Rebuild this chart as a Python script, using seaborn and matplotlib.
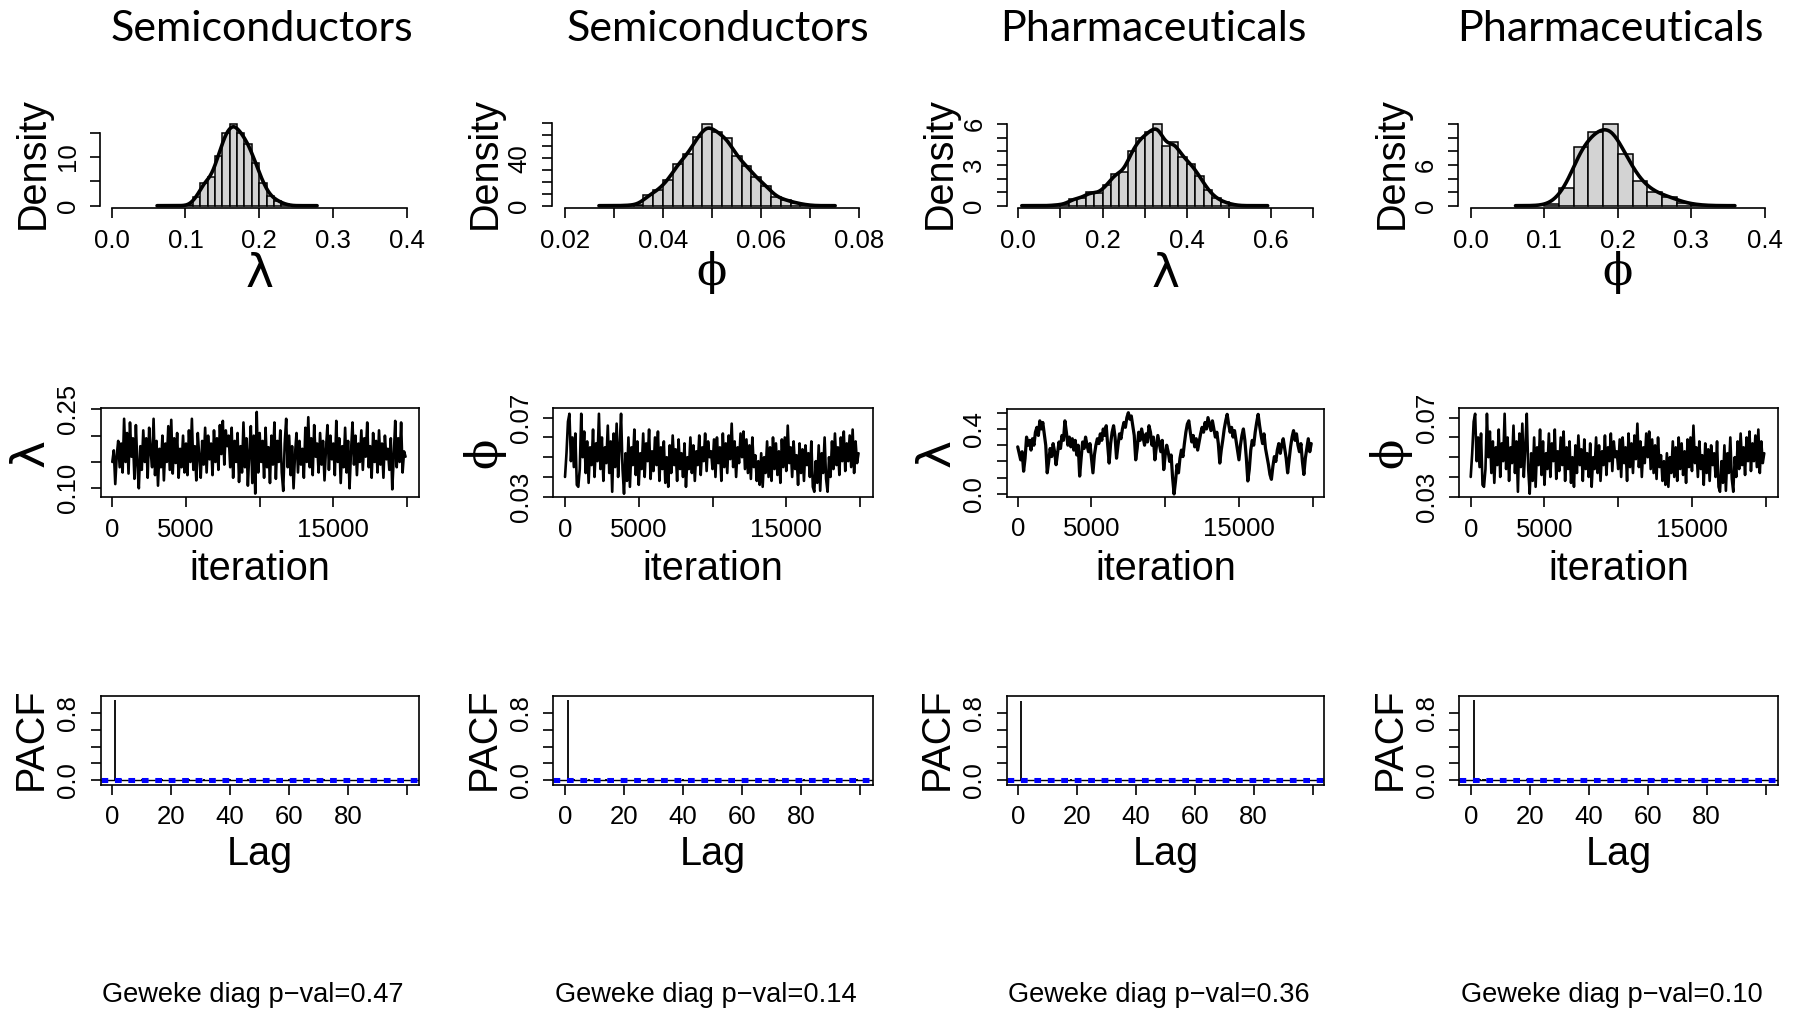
import numpy as np
import pandas as pd
import matplotlib
matplotlib.use("Agg")
import matplotlib.pyplot as plt
import seaborn as sns

sns.set_theme(style="white")
plt.rcParams['font.family'] = ['Liberation Sans', 'DejaVu Sans']
plt.rcParams.update({'axes.edgecolor': 'black', 'xtick.color': 'black',
                     'ytick.color': 'black', 'text.color': 'black',
                     'axes.linewidth': 1.2})

W, H = 1805, 1013

# ---------------- data ----------------
titles = ["Semiconductors", "Semiconductors", "Pharmaceuticals", "Pharmaceuticals"]
param_names = ["λ", "ϕ", "λ", "ϕ"]
geweke_p = ["0.47", "0.14", "0.36", "0.10"]

hist1_breaks = [0.10, 0.11, 0.12, 0.13, 0.14, 0.15, 0.16, 0.17, 0.18, 0.19, 0.20,
                0.21, 0.22, 0.23, 0.24]
hist1_density = [0.1, 1.7, 4.7, 5.8, 10.3, 15.0, 16.7, 14.9, 12.6, 8.8, 4.7, 2.0, 1.0, 0.3]

hist2_breaks = [0.032, 0.034, 0.036, 0.038, 0.040, 0.042, 0.044, 0.046, 0.048, 0.050,
                0.052, 0.054, 0.056, 0.058, 0.060, 0.062, 0.064, 0.066, 0.068, 0.070]
hist2_density = [0.3, 1.0, 8.7, 13.2, 21.6, 35.0, 43.6, 57.6, 68.9, 62.4, 56.8, 42.2,
                 33.5, 23.9, 16.9, 7.6, 4.8, 2.5, 0.8]

hist3_breaks = [0.08, 0.10, 0.12, 0.14, 0.16, 0.18, 0.20, 0.22, 0.24, 0.26, 0.28, 0.30,
                0.32, 0.34, 0.36, 0.38, 0.40, 0.42, 0.44, 0.46, 0.48, 0.50, 0.52]
hist3_density = [0.05, 0.1, 0.5, 0.57, 1.0, 0.9, 1.5, 2.36, 2.5, 4.06, 4.97, 5.4, 6.0,
                 4.43, 4.7, 3.6, 3.07, 2.19, 1.16, 0.54, 0.25, 0.07]

hist4_breaks = [0.10, 0.12, 0.14, 0.16, 0.18, 0.20, 0.22, 0.24, 0.26, 0.28, 0.30, 0.32]
hist4_density = [0.2, 2.66, 8.7, 10.9, 12.1, 7.57, 3.69, 1.97, 1.33, 0.44, 0.1]

hist_xticks = [[0.0, 0.1, 0.2, 0.3, 0.4],
               [0.02, 0.03, 0.04, 0.05, 0.06, 0.07, 0.08],
               [0.0, 0.1, 0.2, 0.3, 0.4, 0.5, 0.6, 0.7],
               [0.0, 0.1, 0.2, 0.3, 0.4]]
hist_xticklabels = [["0.0", "0.1", "0.2", "0.3", "0.4"],
                    ["0.02", "", "0.04", "", "0.06", "", "0.08"],
                    ["0.0", "", "0.2", "", "0.4", "", "0.6", ""],
                    ["0.0", "0.1", "0.2", "0.3", "0.4"]]
hist_yticks = [[0, 5, 10, 15],
               [0, 10, 20, 30, 40, 50, 60, 70],
               [0, 1, 2, 3, 4, 5, 6],
               [0, 2, 4, 6, 8, 10, 12]]
hist_yticklabels = [["0", "", "10", ""],
                    ["0", "", "", "", "40", "", "", ""],
                    ["0", "", "", "3", "", "", "6"],
                    ["0", "", "", "6", "", "", ""]]

iterations = np.arange(1, 20001, 100)

trace_lambda_semi = [
    0.150, 0.172, 0.108, 0.162, 0.190, 0.140, 0.185, 0.130, 0.232, 0.150,
    0.205, 0.128, 0.225, 0.160, 0.195, 0.118, 0.220, 0.145, 0.100, 0.180,
    0.135, 0.210, 0.150, 0.195, 0.120, 0.215, 0.170, 0.140, 0.232, 0.125,
    0.190, 0.105, 0.175, 0.140, 0.200, 0.115, 0.185, 0.150, 0.218, 0.135,
    0.230, 0.128, 0.195, 0.148, 0.205, 0.120, 0.175, 0.140, 0.200, 0.130,
    0.185, 0.125, 0.210, 0.150, 0.232, 0.135, 0.180, 0.115, 0.205, 0.160,
    0.120, 0.190, 0.145, 0.215, 0.130, 0.200, 0.155, 0.185, 0.125, 0.210,
    0.150, 0.195, 0.135, 0.220, 0.165, 0.228, 0.145, 0.210, 0.180, 0.200,
    0.140, 0.215, 0.120, 0.190, 0.150, 0.205, 0.112, 0.180, 0.130, 0.225,
    0.140, 0.195, 0.105, 0.170, 0.218, 0.110, 0.200, 0.090, 0.245, 0.130,
    0.205, 0.150, 0.190, 0.120, 0.215, 0.140, 0.178, 0.110, 0.200, 0.145,
    0.225, 0.118, 0.190, 0.150, 0.210, 0.130, 0.095, 0.185, 0.232, 0.140,
    0.200, 0.125, 0.180, 0.100, 0.165, 0.205, 0.130, 0.190, 0.145, 0.175,
    0.120, 0.215, 0.150, 0.235, 0.140, 0.195, 0.125, 0.220, 0.160, 0.185,
    0.130, 0.205, 0.145, 0.190, 0.115, 0.175, 0.220, 0.135, 0.200, 0.155,
    0.185, 0.125, 0.228, 0.150, 0.195, 0.110, 0.180, 0.140, 0.215, 0.130,
    0.190, 0.100, 0.170, 0.225, 0.145, 0.200, 0.125, 0.185, 0.150, 0.210,
    0.135, 0.195, 0.160, 0.225, 0.140, 0.180, 0.120, 0.205, 0.150, 0.190,
    0.130, 0.210, 0.145, 0.185, 0.120, 0.200, 0.155, 0.175, 0.135, 0.195,
    0.098, 0.160, 0.228, 0.140, 0.195, 0.150, 0.225, 0.130, 0.170, 0.160]

trace_phi_semi = [
    0.040, 0.052, 0.068, 0.072, 0.048, 0.060, 0.045, 0.062, 0.036, 0.035,
    0.044, 0.072, 0.050, 0.063, 0.042, 0.058, 0.037, 0.055, 0.046, 0.064,
    0.040, 0.057, 0.048, 0.072, 0.044, 0.060, 0.038, 0.055, 0.047, 0.066,
    0.042, 0.058, 0.0325, 0.062, 0.045, 0.067, 0.040, 0.055, 0.072, 0.044,
    0.0315, 0.052, 0.038, 0.060, 0.035, 0.055, 0.046, 0.064, 0.041, 0.058,
    0.036, 0.052, 0.044, 0.062, 0.040, 0.057, 0.048, 0.064, 0.039, 0.053,
    0.043, 0.060, 0.046, 0.063, 0.038, 0.055, 0.044, 0.058, 0.037, 0.050,
    0.035, 0.056, 0.042, 0.061, 0.046, 0.054, 0.038, 0.059, 0.044, 0.052,
    0.040, 0.057, 0.035, 0.050, 0.044, 0.060, 0.042, 0.056, 0.038, 0.053,
    0.046, 0.061, 0.041, 0.055, 0.048, 0.062, 0.043, 0.058, 0.050, 0.053,
    0.044, 0.059, 0.040, 0.060, 0.047, 0.055, 0.038, 0.062, 0.045, 0.057,
    0.042, 0.061, 0.049, 0.067, 0.045, 0.058, 0.040, 0.055, 0.047, 0.062,
    0.050, 0.063, 0.044, 0.059, 0.042, 0.056, 0.039, 0.060, 0.045, 0.051,
    0.038, 0.048, 0.036, 0.052, 0.035, 0.050, 0.042, 0.058, 0.040, 0.055,
    0.038, 0.060, 0.044, 0.057, 0.041, 0.053, 0.037, 0.059, 0.045, 0.060,
    0.043, 0.066, 0.047, 0.055, 0.040, 0.058, 0.044, 0.051, 0.036, 0.057,
    0.042, 0.054, 0.038, 0.056, 0.046, 0.052, 0.040, 0.058, 0.035, 0.0325,
    0.048, 0.037, 0.056, 0.033, 0.052, 0.042, 0.060, 0.039, 0.0325, 0.050,
    0.040, 0.058, 0.044, 0.062, 0.046, 0.055, 0.041, 0.060, 0.048, 0.063,
    0.043, 0.057, 0.048, 0.061, 0.045, 0.064, 0.042, 0.058, 0.047, 0.052]

trace_lambda_pharma = [
    0.29, 0.25, 0.21, 0.26, 0.14, 0.22, 0.35, 0.30, 0.33, 0.27,
    0.34, 0.30, 0.38, 0.41, 0.36, 0.45, 0.40, 0.44, 0.37, 0.30,
    0.13, 0.20, 0.28, 0.23, 0.31, 0.26, 0.18, 0.25, 0.32, 0.28,
    0.36, 0.33, 0.45, 0.38, 0.30, 0.35, 0.29, 0.34, 0.27, 0.33,
    0.24, 0.30, 0.11, 0.22, 0.32, 0.28, 0.35, 0.30, 0.26, 0.31,
    0.22, 0.13, 0.24, 0.30, 0.34, 0.31, 0.37, 0.33, 0.40, 0.36,
    0.42, 0.30, 0.19, 0.31, 0.38, 0.42, 0.35, 0.22, 0.30, 0.37,
    0.34, 0.40, 0.44, 0.41, 0.47, 0.50, 0.46, 0.48, 0.42, 0.36,
    0.21, 0.28, 0.38, 0.33, 0.40, 0.35, 0.30, 0.37, 0.32, 0.42,
    0.38, 0.30, 0.35, 0.21, 0.29, 0.36, 0.31, 0.26, 0.33, 0.15,
    0.24, 0.30, 0.26, 0.20, 0.24, 0.10, 0.00, 0.08, 0.18, 0.13,
    0.22, 0.27, 0.23, 0.31, 0.38, 0.43, 0.45, 0.38, 0.32, 0.36,
    0.29, 0.34, 0.27, 0.32, 0.37, 0.41, 0.38, 0.44, 0.40, 0.47,
    0.43, 0.39, 0.45, 0.40, 0.35, 0.38, 0.31, 0.19, 0.27, 0.33,
    0.40, 0.45, 0.49, 0.43, 0.38, 0.41, 0.35, 0.39, 0.33, 0.27,
    0.21, 0.30, 0.36, 0.40, 0.33, 0.22, 0.08, 0.15, 0.27, 0.33,
    0.30, 0.38, 0.44, 0.49, 0.42, 0.36, 0.31, 0.37, 0.28, 0.23,
    0.18, 0.12, 0.09, 0.17, 0.23, 0.20, 0.27, 0.31, 0.25, 0.30,
    0.34, 0.28, 0.22, 0.13, 0.21, 0.29, 0.35, 0.39, 0.33, 0.37,
    0.30, 0.26, 0.31, 0.20, 0.12, 0.22, 0.28, 0.34, 0.26, 0.31]

# the phi trace for the pharmaceutical column shows the same chain as the semiconductor one
trace_phi_pharma = list(trace_phi_semi)

trace_yticks = [[0.10, 0.15, 0.20, 0.25],
                [0.03, 0.04, 0.05, 0.06, 0.07],
                [0.0, 0.1, 0.2, 0.3, 0.4, 0.5],
                [0.03, 0.04, 0.05, 0.06, 0.07]]
trace_yticklabels = [["0.10", "", "", "0.25"],
                     ["0.03", "", "", "", "0.07"],
                     ["0.0", "", "", "", "0.4", ""],
                     ["0.03", "", "", "", "0.07"]]
trace_xticks = [0, 5000, 10000, 15000, 20000]
trace_xticklabels = ["0", "5000", "", "15000", ""]

lags = np.arange(1, 101)
pacf_lambda_semi = [
    0.960, 0.012, 0.008, 0.004, -0.003, 0.006, 0.002, -0.005, 0.004, 0.007,
    -0.002, 0.003, -0.006, 0.005, 0.001, -0.004, 0.006, -0.001, 0.003, -0.007,
    0.004, 0.002, -0.003, 0.005, -0.002, 0.006, -0.004, 0.001, 0.003, -0.005,
    0.007, -0.002, 0.004, -0.006, 0.002, 0.005, -0.003, 0.001, -0.004, 0.006,
    0.003, -0.002, 0.004, -0.005, 0.002, 0.006, -0.001, -0.004, 0.003, 0.005,
    -0.006, 0.002, 0.004, -0.003, 0.001, 0.005, -0.002, -0.005, 0.003, 0.006,
    -0.004, 0.002, 0.001, -0.003, 0.005, -0.006, 0.004, 0.002, -0.001, 0.003,
    -0.005, 0.006, 0.001, -0.002, 0.004, -0.004, 0.003, 0.005, -0.003, 0.002,
    -0.006, 0.004, 0.001, 0.006, -0.002, 0.003, -0.005, 0.002, 0.008, -0.003,
    0.004, -0.001, 0.005, -0.004, 0.002, 0.003, -0.006, 0.001, 0.004, -0.002]
pacf_phi_semi = [
    0.955, 0.010, 0.006, -0.003, 0.005, 0.002, -0.004, 0.006, 0.003, -0.002,
    0.004, -0.005, 0.002, 0.006, -0.001, -0.004, 0.003, 0.005, -0.006, 0.002,
    0.004, -0.003, 0.001, 0.005, -0.002, -0.005, 0.003, 0.006, -0.004, 0.002,
    0.001, -0.003, 0.005, -0.006, 0.004, 0.002, -0.001, 0.003, -0.005, 0.006,
    0.001, -0.002, 0.004, -0.004, 0.003, 0.005, -0.003, 0.002, -0.006, 0.004,
    0.001, 0.006, -0.002, 0.003, -0.005, 0.002, 0.007, -0.003, 0.004, -0.001,
    0.005, -0.004, 0.002, 0.003, -0.006, 0.001, 0.004, -0.002, 0.003, -0.005,
    0.002, 0.006, -0.001, -0.004, 0.003, 0.005, -0.002, 0.004, -0.003, 0.001,
    0.006, -0.005, 0.002, 0.004, -0.002, 0.003, -0.004, 0.005, 0.001, -0.003,
    0.004, -0.006, 0.002, 0.005, -0.001, 0.003, -0.004, 0.002, 0.006, -0.002]
pacf_lambda_pharma = [
    0.950, 0.008, -0.004, 0.005, 0.003, -0.002, 0.006, -0.005, 0.002, 0.004,
    -0.003, 0.005, 0.001, -0.006, 0.003, 0.004, -0.002, 0.006, -0.004, 0.002,
    0.001, -0.005, 0.004, 0.003, -0.003, 0.006, -0.001, 0.002, -0.004, 0.005,
    0.003, -0.006, 0.002, 0.004, -0.002, 0.001, 0.005, -0.003, 0.006, -0.004,
    0.002, 0.003, -0.005, 0.001, 0.004, -0.002, 0.006, -0.003, 0.002, 0.005,
    -0.004, 0.001, 0.003, -0.006, 0.004, 0.002, -0.001, 0.005, -0.003, 0.002,
    0.006, -0.004, 0.003, -0.002, 0.001, 0.005, -0.005, 0.004, 0.002, -0.003,
    0.003, 0.006, -0.001, -0.004, 0.002, 0.005, -0.006, 0.003, 0.001, -0.002,
    0.004, -0.003, 0.005, 0.002, -0.005, 0.003, 0.001, -0.004, 0.006, -0.002,
    0.002, 0.004, -0.003, 0.005, -0.001, -0.006, 0.003, 0.002, -0.004, 0.004]
pacf_phi_pharma = [
    0.955, 0.014, 0.010, 0.008, 0.009, 0.006, 0.010, 0.004, -0.003, 0.005,
    0.006, -0.002, 0.004, 0.003, -0.004, 0.005, 0.002, -0.003, 0.006, -0.001,
    0.003, -0.005, 0.004, 0.002, -0.002, 0.005, -0.004, 0.001, 0.003, -0.006,
    0.004, 0.002, -0.003, 0.005, -0.001, 0.003, -0.005, 0.006, 0.002, -0.002,
    0.004, -0.004, 0.001, 0.005, -0.003, 0.002, 0.006, -0.005, 0.003, 0.001,
    -0.002, 0.004, -0.006, 0.003, 0.002, -0.001, 0.005, -0.003, 0.004, 0.002,
    -0.004, 0.006, 0.001, -0.002, 0.003, -0.005, 0.004, 0.002, -0.003, 0.005,
    0.001, -0.004, 0.003, 0.006, -0.002, 0.002, -0.005, 0.004, 0.001, -0.003,
    0.005, -0.002, 0.003, -0.006, 0.004, 0.002, -0.001, 0.005, -0.004, 0.003,
    0.002, -0.003, 0.006, 0.001, -0.005, 0.004, 0.002, -0.002, 0.003, -0.001]
pacf_ci = 0.014
pacf_yticks = [0.0, 0.2, 0.4, 0.6, 0.8]
pacf_yticklabels = ["0.0", "", "", "", "0.8"]
pacf_xticks = [0, 20, 40, 60, 80, 100]
pacf_xticklabels = ["0", "20", "40", "60", "80", ""]

hists = [(hist1_breaks, hist1_density), (hist2_breaks, hist2_density),
         (hist3_breaks, hist3_density), (hist4_breaks, hist4_density)]
traces = [trace_lambda_semi, trace_phi_semi, trace_lambda_pharma, trace_phi_pharma]
pacfs = [pacf_lambda_semi, pacf_phi_semi, pacf_lambda_pharma, pacf_phi_pharma]

# ---------------- layout (pixels) ----------------
fig = plt.figure(figsize=(W / 100, H / 100), dpi=100)


def add_ax(left, right, top, bottom):
    return fig.add_axes([left / W, 1 - bottom / H, (right - left) / W, (bottom - top) / H])


def lim(v0, p0, v1, p1, pa, pb):
    s = (v1 - v0) / (p1 - p0)
    return (v0 + (pa - p0) * s, v0 + (pb - p0) * s)


def ftext(x, y, s, **kw):
    fig.text(x / W, 1 - y / H, s, **kw)


TICK = dict(direction='out', length=7.2, width=1.2, labelsize=18.5, pad=7.5,
            bottom=True, left=True, top=False, right=False)


def greek_kw(name):
    if name == "λ":
        return dict(family=['DejaVu Sans'], fontsize=34)
    return dict(family=['DejaVu Serif'], fontsize=32)


hist_geom = [
    (100.0, 418.5, (0.0, 111.7, 0.4, 406.7), (15, 132.7)),
    (551.7, 870.7, (0.02, 565.0, 0.08, 859.3), (70, 122.7)),
    (1006.7, 1325.1, (0.0, 1018.3, 0.7, 1313.3), (6, 124.3)),
    (1458.3, 1777.4, (0.0, 1470.7, 0.4, 1765.0), (12, 124.3)),
]
kde_bw = [0.26, 0.20, 0.17, 0.37]
kde_cut = [4.0, 2.7, 3.7, 2.0]

for i in range(4):
    left, right, xg, (ytop_v, ytop_p) = hist_geom[i]
    top_px, bot_px = 112.0, 208.3
    ax = add_ax(left, right, top_px, bot_px)
    breaks, dens = hists[i]
    centers = [(breaks[k] + breaks[k + 1]) / 2 for k in range(len(dens))]
    sns.histplot(x=centers, weights=dens, bins=breaks, stat='count',
                 color='#D3D3D3', edgecolor='black', linewidth=1.1, alpha=1, ax=ax)
    sns.kdeplot(x=centers, weights=dens, bw_method=kde_bw[i], cut=kde_cut[i],
                color='black', linewidth=2.6, ax=ax)
    ax.set_xlim(*lim(xg[0], xg[1], xg[2], xg[3], left, right))
    ax.set_ylim(*lim(0, 205.7, ytop_v, ytop_p, bot_px, top_px))
    ax.set_xlabel('')
    ax.set_ylabel('')
    for sp in ['top', 'right']:
        ax.spines[sp].set_visible(False)
    ax.spines['left'].set_bounds(0, hist_yticks[i][-1])
    ax.spines['bottom'].set_bounds(hist_xticks[i][0], hist_xticks[i][-1])
    ax.set_xticks(hist_xticks[i])
    ax.set_xticklabels(hist_xticklabels[i])
    ax.set_yticks(hist_yticks[i])
    ax.set_yticklabels(hist_yticklabels[i], rotation=90, va='center')
    ax.tick_params(**TICK)
    ax.patch.set_alpha(0)
    cx = (left + right) / 2
    ftext(left - 67, 163, "Density", rotation=90, ha='center', va='center', fontsize=28.5)
    ftext(cx, 274 if param_names[i] == "λ" else 272, param_names[i],
          ha='center', va='center', **greek_kw(param_names[i]))

trace_geom = [
    (100.7, 419.0, 408.3, 497.3, (0, 112.3, 20000, 407.0), (0.10, 488.3, 0.25, 409.3)),
    (553.3, 872.7, 408.3, 497.3, (0, 565.0, 20000, 860.0), (0.03, 496.7, 0.07, 417.7)),
    (1006.7, 1324.3, 409.0, 496.7, (0, 1017.7, 20000, 1312.7), (0.0, 494.0, 0.5, 412.7)),
    (1459.3, 1777.7, 408.3, 497.3, (0, 1470.7, 20000, 1765.7), (0.03, 496.7, 0.07, 417.7)),
]
trace_lw = [1.9, 1.9, 2.3, 1.9]
for i in range(4):
    left, right, top, bot, xg, yg = trace_geom[i]
    ax = add_ax(left, right, top, bot)
    df = pd.DataFrame({"iteration": iterations, "value": traces[i]})
    sns.lineplot(data=df, x="iteration", y="value", color='black', linewidth=trace_lw[i],
                 estimator=None, sort=False, ax=ax)
    ax.set_xlim(*lim(xg[0], xg[1], xg[2], xg[3], left, right))
    ax.set_ylim(*lim(yg[0], yg[1], yg[2], yg[3], bot, top))
    ax.set_xlabel('')
    ax.set_ylabel('')
    ax.set_xticks(trace_xticks)
    ax.set_xticklabels(trace_xticklabels)
    ax.set_yticks(trace_yticks[i])
    ax.set_yticklabels(trace_yticklabels[i], rotation=90, va='center')
    ax.tick_params(**TICK)
    ftext(left - 70, 453, param_names[i], rotation=90, ha='center', va='center',
          **greek_kw(param_names[i]))
    ftext((left + right) / 2, 580, "iteration", ha='center', va='baseline', fontsize=28.5)

for i in range(4):
    left, right, _, _, xg, _ = trace_geom[i]
    top, bot = 696.0, 785.0
    ax = add_ax(left, right, top, bot)
    ax.vlines(lags, 0, pacfs[i], color='black', linewidth=1.3)
    ax.axhline(0, color='black', linewidth=1.0)
    for c in (pacf_ci, -pacf_ci):
        ax.axhline(c, color='#0000FF', linewidth=2.2, linestyle=(0, (2.2, 2.2)))
    ax.set_xlim(*lim(0, xg[1], 100, xg[3], left, right))
    ax.set_ylim(*lim(0.0, 780.0, 0.8, 713.3, bot, top))
    ax.set_xticks(pacf_xticks)
    ax.set_xticklabels(pacf_xticklabels)
    ax.set_yticks(pacf_yticks)
    ax.set_yticklabels(pacf_yticklabels, rotation=90, va='center')
    ax.tick_params(**TICK)
    ftext(left - 70, 739, "PACF", rotation=90, ha='center', va='center', fontsize=28.5)
    ftext((left + right) / 2, 865, "Lag", ha='center', va='baseline', fontsize=28.5)

title_x = [262, 718, 1153, 1610]
note_x = [252.5, 705.6, 1159, 1611.5]
for i in range(4):
    ftext(title_x[i], 41, titles[i], ha='center', va='baseline', fontsize=31,
          family=['Lato', 'DejaVu Sans'])
    ftext(note_x[i], 1001.5, "Geweke diag p\u2212val=" + geweke_p[i], ha='center',
          va='baseline', fontsize=19.6)

fig.savefig("out.png", dpi=100, facecolor='white')
